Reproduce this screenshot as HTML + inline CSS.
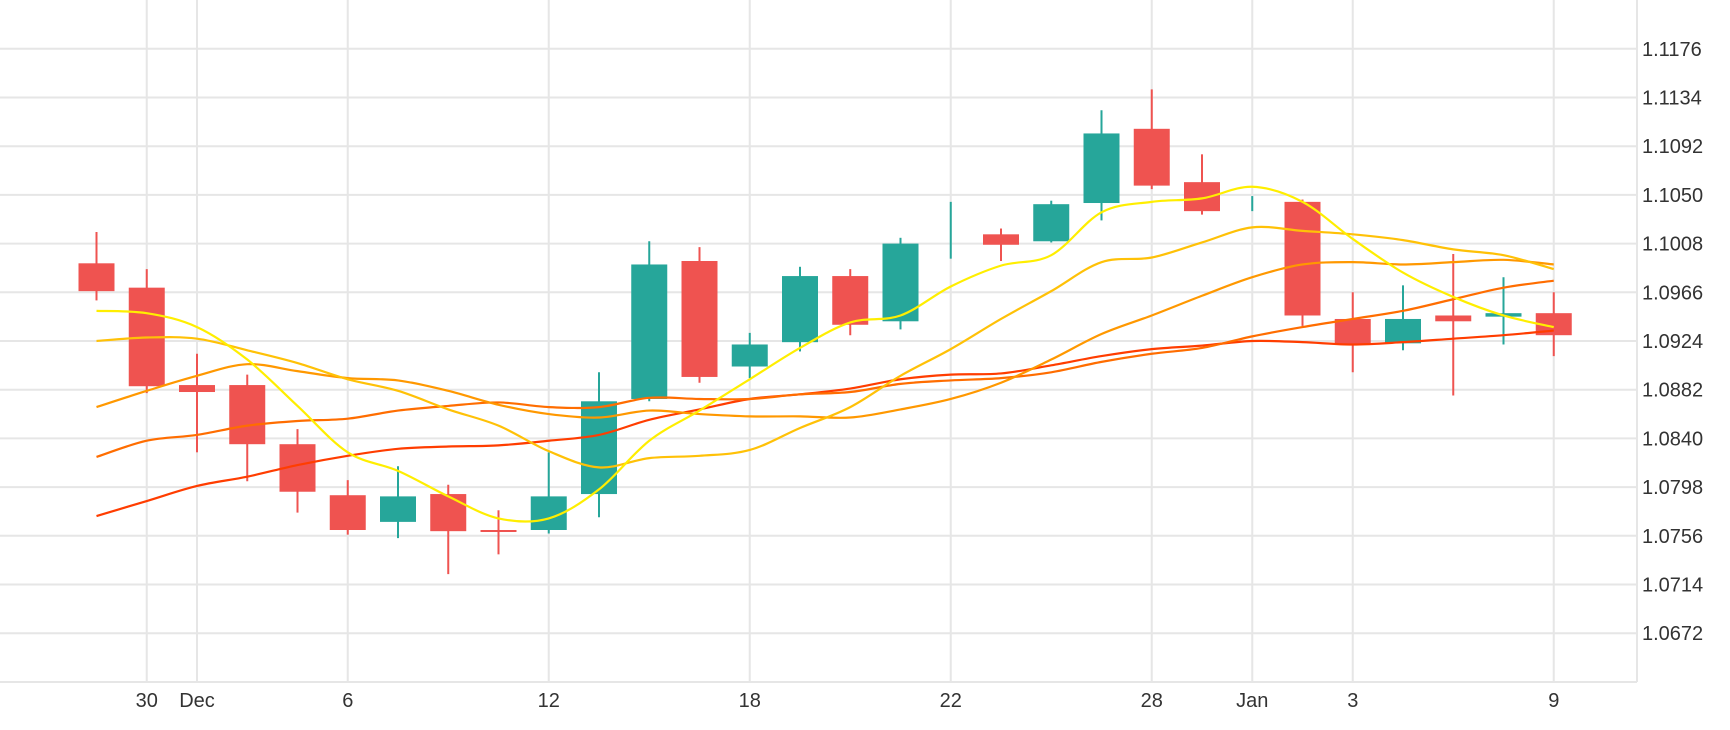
<!DOCTYPE html>
<html><head><meta charset="utf-8"><style>
html,body{margin:0;padding:0;background:#fff;}
svg{display:block;font-family:"Liberation Sans",sans-serif;}
</style></head><body>
<svg id="chart" width="1730" height="730" viewBox="0 0 1730 730"></svg>
<script>
const dates = ["Nov 29","30","Dec","Dec 4","Dec 5","6","Dec 7","Dec 8","Dec 11","12","Dec 13","Dec 14","Dec 15","18","Dec 19","Dec 20","Dec 21","22","Dec 25","Dec 26","Dec 27","28","Dec 29","Jan","Jan 2","3","Jan 4","Jan 5","Jan 8","9"];
const openV  = [1.0991,1.0970,1.0886,1.0886,1.0835,1.0791,1.0768,1.0792,1.0761,1.0761,1.0792,1.0874,1.0993,1.0902,1.0923,1.0980,1.0941,1.1040,1.1016,1.1010,1.1043,1.1107,1.1061,1.1045,1.1044,1.0943,1.0922,1.0946,1.0945,1.0948];
const highV  = [1.1018,1.0986,1.0913,1.0895,1.0848,1.0804,1.0816,1.0800,1.0778,1.0828,1.0897,1.1010,1.1005,1.0931,1.0988,1.0986,1.1013,1.1044,1.1021,1.1045,1.1123,1.1141,1.1085,1.1049,1.1046,1.0966,1.0972,1.0999,1.0979,1.0966];
const lowV   = [1.0959,1.0879,1.0828,1.0803,1.0776,1.0757,1.0754,1.0723,1.0740,1.0758,1.0772,1.0872,1.0888,1.0892,1.0915,1.0929,1.0934,1.0995,1.0993,1.1009,1.1028,1.1055,1.1033,1.1036,1.0937,1.0897,1.0916,1.0877,1.0921,1.0911];
const closeV = [1.0967,1.0885,1.0880,1.0835,1.0794,1.0761,1.0790,1.0760,1.0760,1.0790,1.0872,1.0990,1.0893,1.0921,1.0980,1.0938,1.1008,1.1040,1.1007,1.1042,1.1103,1.1058,1.1036,1.1045,1.0946,1.0921,1.0943,1.0941,1.0948,1.0929];
const maYellow = [1.0950,1.0948,1.0936,1.0908,1.0868,1.0828,1.0812,1.0790,1.0771,1.0771,1.0796,1.0838,1.0864,1.0891,1.0918,1.0940,1.0946,1.0971,1.0989,1.0998,1.1035,1.1044,1.1047,1.1057,1.1044,1.1012,1.0983,1.0962,1.0946,1.0936];
const maGold   = [1.0924,1.0927,1.0926,1.0916,1.0905,1.0891,1.0881,1.0865,1.0851,1.0829,1.0815,1.0823,1.0825,1.0830,1.0849,1.0867,1.0894,1.0917,1.0943,1.0967,1.0992,1.0996,1.1009,1.1022,1.1019,1.1016,1.1011,1.1003,1.0998,1.0986];
const maOrange = [1.0867,1.0881,1.0894,1.0904,1.0898,1.0892,1.0890,1.0881,1.0869,1.0861,1.0858,1.0864,1.0861,1.0859,1.0859,1.0858,1.0865,1.0874,1.0888,1.0908,1.0930,1.0946,1.0963,1.0979,1.0990,1.0992,1.0990,1.0992,1.0994,1.0990];
const maDark   = [1.0824,1.0838,1.0843,1.0851,1.0855,1.0857,1.0864,1.0868,1.0871,1.0867,1.0867,1.0875,1.0874,1.0874,1.0878,1.0880,1.0887,1.0890,1.0892,1.0897,1.0906,1.0913,1.0918,1.0928,1.0936,1.0943,1.0950,1.0960,1.0970,1.0976];
const maRed    = [1.0773,1.0786,1.0799,1.0807,1.0817,1.0825,1.0831,1.0833,1.0834,1.0838,1.0843,1.0856,1.0865,1.0874,1.0878,1.0883,1.0891,1.0895,1.0896,1.0903,1.0911,1.0917,1.0920,1.0924,1.0923,1.0921,1.0923,1.0926,1.0929,1.0933];
const yTicks = [1.1176,1.1134,1.1092,1.1050,1.1008,1.0966,1.0924,1.0882,1.0840,1.0798,1.0756,1.0714,1.0672];
const xTickIdx = [1,2,5,9,13,17,21,23,25,29];
const xTickLabels = ["30","Dec","6","12","18","22","28","Jan","3","9"];

const NS="http://www.w3.org/2000/svg";
const svg=document.getElementById('chart');
const plotRight=1637, axisY=682;
function y(p){return 48.8+(1.1176-p)/0.0042*48.7;}
function x(i){return 96.5+i*50.25;}
function mk(tag,attrs,parent){const e=document.createElementNS(NS,tag);for(const k in attrs)e.setAttribute(k,attrs[k]);(parent||svg).appendChild(e);return e;}

const grid=mk('g',{});


yTicks.forEach((t,k)=>{
  const l=mk('line',{x1:0,x2:plotRight,y1:y(t),y2:y(t),stroke:'#e6e6e6','stroke-width':2},grid);
  
  
  const tx=mk('text',{x:1642,y:y(t)+7,'font-size':20,fill:'#333'});
  tx.textContent=t.toFixed(4);
  
  
});
xTickIdx.forEach((i,k)=>{
  const l=mk('line',{x1:x(i),x2:x(i),y1:0,y2:axisY,stroke:'#e6e6e6','stroke-width':2},grid);
  
  
  const tx=mk('text',{x:x(i),y:707,'font-size':20,fill:'#333','text-anchor':'middle'});
  tx.textContent=xTickLabels[k];
  
  
});
const ax=mk('line',{x1:0,x2:plotRight,y1:axisY,y2:axisY,stroke:'#e6e6e6','stroke-width':2});


const ay=mk('line',{x1:plotRight,x2:plotRight,y1:0,y2:axisY,stroke:'#e6e6e6','stroke-width':2});



// candles
const cg=mk('g',{});


for(let i=0;i<openV.length;i++){
  const up=closeV[i]>=openV[i];
  const col=up?'#26a69a':'#ef5350';
  const w=mk('line',{x1:x(i),x2:x(i),y1:y(highV[i]),y2:y(lowV[i]),stroke:col,'stroke-width':2},cg);
  
  
  const top=y(Math.max(openV[i],closeV[i])), bot=y(Math.min(openV[i],closeV[i]));
  let h=bot-top; if(openV[i]!==closeV[i]&&h<2)h=2;
  if(h>0){
    const r=mk('rect',{x:x(i)-18,y:top,width:36,height:h,fill:col},cg);
    
    
  }
}

// moving averages
function smooth(vals){
  const pts=vals.map((v,i)=>[x(i),y(v)]);
  let d='M'+pts[0][0]+','+pts[0][1];
  for(let i=0;i<pts.length-1;i++){
    const p0=pts[i-1]||pts[i],p1=pts[i],p2=pts[i+1],p3=pts[i+2]||p2;
    const c1=[p1[0]+(p2[0]-p0[0])/6,p1[1]+(p2[1]-p0[1])/6];
    const c2=[p2[0]-(p3[0]-p1[0])/6,p2[1]-(p3[1]-p1[1])/6];
    d+=' C'+c1[0]+','+c1[1]+' '+c2[0]+','+c2[1]+' '+p2[0]+','+p2[1];
  }
  return d;
}
const series=[[maRed,'#ff3d00','ma-red'],[maDark,'#ff6d00','ma-dark-orange'],[maOrange,'#ff9800','ma-orange'],[maGold,'#ffc107','ma-gold'],[maYellow,'#ffee00','ma-yellow']];
series.forEach(s=>{
  const p=mk('path',{d:smooth(s[0]),fill:'none',stroke:s[1],'stroke-width':2.2});
  
  
});
</script>
</body></html>
